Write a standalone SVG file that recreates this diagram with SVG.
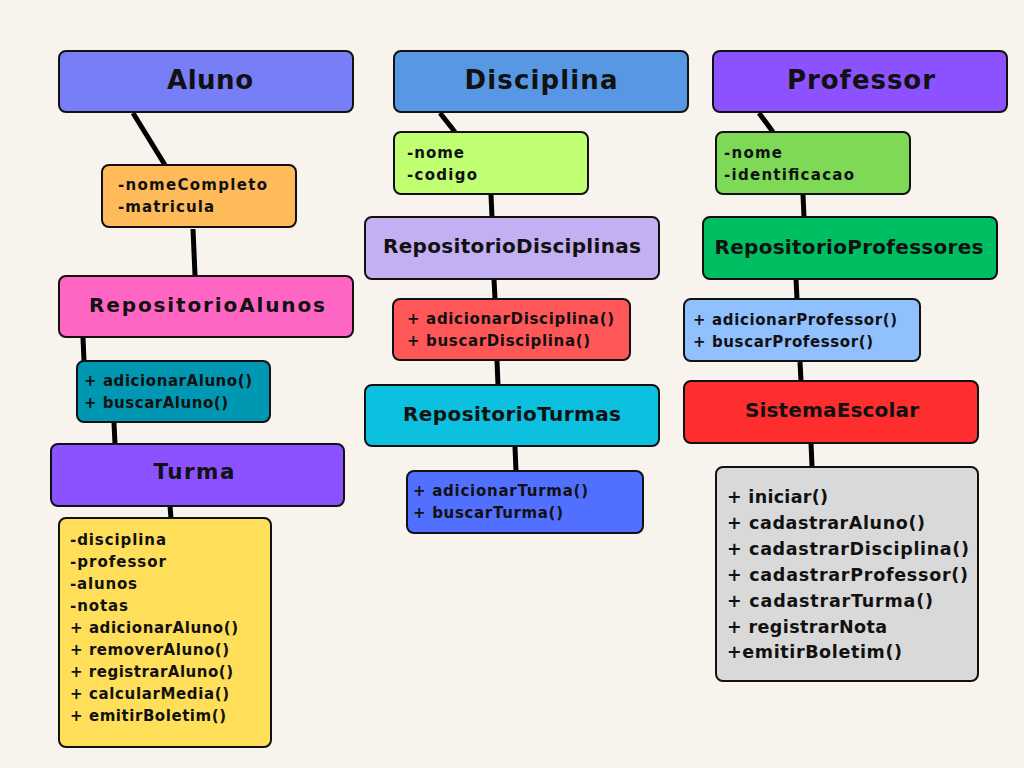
<svg xmlns="http://www.w3.org/2000/svg" width="1024" height="768" viewBox="0 0 1024 768">
<style>
.box{stroke:#111;stroke-width:2}
.t{font-family:"DejaVu Sans","Open Sans",sans-serif;font-weight:700;fill:#111}
.h1{font-size:26px;text-anchor:middle}
.h2{font-size:20px;text-anchor:middle}
.s{font-size:15px}
.m{font-size:17.5px}
.c{stroke:#000;stroke-width:5;fill:none}
</style>
<rect width="1024" height="768" fill="#f8f4ed"/>
<g id="connectors">
<line class="c" x1="133" y1="113" x2="165" y2="165"/>
<line class="c" x1="193" y1="229" x2="195" y2="275"/>
<line class="c" x1="83" y1="338" x2="84" y2="361"/>
<line class="c" x1="114" y1="423" x2="115" y2="444"/>
<line class="c" x1="170" y1="506" x2="171" y2="518"/>
<line class="c" x1="440" y1="113" x2="455" y2="132"/>
<line class="c" x1="491" y1="195" x2="492" y2="217"/>
<line class="c" x1="494" y1="279" x2="495" y2="299"/>
<line class="c" x1="497" y1="361" x2="498" y2="385"/>
<line class="c" x1="515" y1="447" x2="516" y2="471"/>
<line class="c" x1="759" y1="113" x2="773" y2="132"/>
<line class="c" x1="803" y1="195" x2="804" y2="217"/>
<line class="c" x1="796" y1="279" x2="797" y2="299"/>
<line class="c" x1="800" y1="362" x2="801" y2="381"/>
<line class="c" x1="811" y1="443" x2="812" y2="466"/>
</g>
<g id="aluno"><rect class="box" x="59" y="51" width="294" height="61" rx="7" fill="#787ef6"/><text class="t h1" x="210" y="89" textLength="86" lengthAdjust="spacing">Aluno</text></g>
<g id="aluno-attrs"><rect class="box" x="102" y="165" width="194" height="62" rx="7" fill="#ffbb5a"/><text class="t s" x="118" y="190" textLength="149" lengthAdjust="spacing">-nomeCompleto</text><text class="t s" x="118" y="212" textLength="96" lengthAdjust="spacing">-matricula</text></g>
<g id="repositorio-alunos"><rect class="box" x="59" y="276" width="294" height="61" rx="7" fill="#ff66c4"/><text class="t h2" x="207" y="312" textLength="236" lengthAdjust="spacing">RepositorioAlunos</text></g>
<g id="repositorio-alunos-methods"><rect class="box" x="77" y="361" width="193" height="61" rx="7" fill="#0097b2"/><text class="t s" x="84" y="386" textLength="168" lengthAdjust="spacing">+ adicionarAluno()</text><text class="t s" x="84" y="408" textLength="144" lengthAdjust="spacing">+ buscarAluno()</text></g>
<g id="turma"><rect class="box" x="51" y="444" width="293" height="62" rx="7" fill="#8c52ff"/><text class="t h2" x="194" y="479" style="font-size:21.5px" textLength="81" lengthAdjust="spacing">Turma</text></g>
<g id="turma-members"><rect class="box" x="59" y="518" width="212" height="229" rx="7" fill="#ffde59"/>
<text class="t s" x="70" y="545" textLength="96" lengthAdjust="spacing">-disciplina</text>
<text class="t s" x="70" y="567" textLength="96" lengthAdjust="spacing">-professor</text>
<text class="t s" x="70" y="589" textLength="67" lengthAdjust="spacing">-alunos</text>
<text class="t s" x="70" y="611" textLength="58" lengthAdjust="spacing">-notas</text>
<text class="t s" x="70" y="633" textLength="168" lengthAdjust="spacing">+ adicionarAluno()</text>
<text class="t s" x="70" y="655" textLength="159" lengthAdjust="spacing">+ removerAluno()</text>
<text class="t s" x="70" y="677" textLength="163" lengthAdjust="spacing">+ registrarAluno()</text>
<text class="t s" x="70" y="699" textLength="159" lengthAdjust="spacing">+ calcularMedia()</text>
<text class="t s" x="70" y="721" textLength="156" lengthAdjust="spacing">+ emitirBoletim()</text></g>
<g id="disciplina"><rect class="box" x="394" y="51" width="294" height="61" rx="7" fill="#5897e3"/><text class="t h1" x="541" y="89" textLength="153" lengthAdjust="spacing">Disciplina</text></g>
<g id="disciplina-attrs"><rect class="box" x="394" y="132" width="194" height="62" rx="7" fill="#c1ff72"/><text class="t s" x="407" y="158" textLength="57" lengthAdjust="spacing">-nome</text><text class="t s" x="407" y="180" textLength="70" lengthAdjust="spacing">-codigo</text></g>
<g id="repositorio-disciplinas"><rect class="box" x="365" y="217" width="294" height="62" rx="7" fill="#c4aff2"/><text class="t h2" x="512" y="253" textLength="258" lengthAdjust="spacing">RepositorioDisciplinas</text></g>
<g id="repositorio-disciplinas-methods"><rect class="box" x="393" y="299" width="237" height="61" rx="7" fill="#ff5757"/><text class="t s" x="407" y="324" textLength="207" lengthAdjust="spacing">+ adicionarDisciplina()</text><text class="t s" x="407" y="346" textLength="183" lengthAdjust="spacing">+ buscarDisciplina()</text></g>
<g id="repositorio-turmas"><rect class="box" x="365" y="385" width="294" height="61" rx="7" fill="#0cc0df"/><text class="t h2" x="512" y="421" textLength="218" lengthAdjust="spacing">RepositorioTurmas</text></g>
<g id="repositorio-turmas-methods"><rect class="box" x="407" y="471" width="236" height="62" rx="7" fill="#5170ff"/><text class="t s" x="413" y="496" textLength="175" lengthAdjust="spacing">+ adicionarTurma()</text><text class="t s" x="413" y="518" textLength="150" lengthAdjust="spacing">+ buscarTurma()</text></g>
<g id="professor"><rect class="box" x="713" y="51" width="294" height="61" rx="7" fill="#8c52ff"/><text class="t h1" x="861" y="89" textLength="148" lengthAdjust="spacing">Professor</text></g>
<g id="professor-attrs"><rect class="box" x="716" y="132" width="194" height="62" rx="7" fill="#7ed957"/><text class="t s" x="724" y="158" textLength="58" lengthAdjust="spacing">-nome</text><text class="t s" x="724" y="180" textLength="130" lengthAdjust="spacing">-identificacao</text></g>
<g id="repositorio-professores"><rect class="box" x="703" y="217" width="294" height="62" rx="7" fill="#00bf63"/><text class="t h2" x="849" y="254" textLength="269" lengthAdjust="spacing">RepositorioProfessores</text></g>
<g id="repositorio-professores-methods"><rect class="box" x="684" y="299" width="236" height="62" rx="7" fill="#91c0fe"/><text class="t s" x="693" y="325" textLength="204" lengthAdjust="spacing">+ adicionarProfessor()</text><text class="t s" x="693" y="347" textLength="180" lengthAdjust="spacing">+ buscarProfessor()</text></g>
<g id="sistema-escolar"><rect class="box" x="684" y="381" width="294" height="62" rx="7" fill="#ff2e2e"/><text class="t h2" x="832" y="417" textLength="174" lengthAdjust="spacing">SistemaEscolar</text></g>
<g id="sistema-escolar-methods"><rect class="box" x="716" y="467" width="262" height="214" rx="7" fill="#d9d9d9"/>
<text class="t m" x="727" y="503" textLength="101" lengthAdjust="spacing">+ iniciar()</text>
<text class="t m" x="727" y="529" textLength="198" lengthAdjust="spacing">+ cadastrarAluno()</text>
<text class="t m" x="727" y="555" textLength="242" lengthAdjust="spacing">+ cadastrarDisciplina()</text>
<text class="t m" x="727" y="581" textLength="241" lengthAdjust="spacing">+ cadastrarProfessor()</text>
<text class="t m" x="727" y="607" textLength="206" lengthAdjust="spacing">+ cadastrarTurma()</text>
<text class="t m" x="727" y="633" textLength="160" lengthAdjust="spacing">+ registrarNota</text>
<text class="t m" x="727" y="658" textLength="175" lengthAdjust="spacing">+emitirBoletim()</text></g>
</svg>
